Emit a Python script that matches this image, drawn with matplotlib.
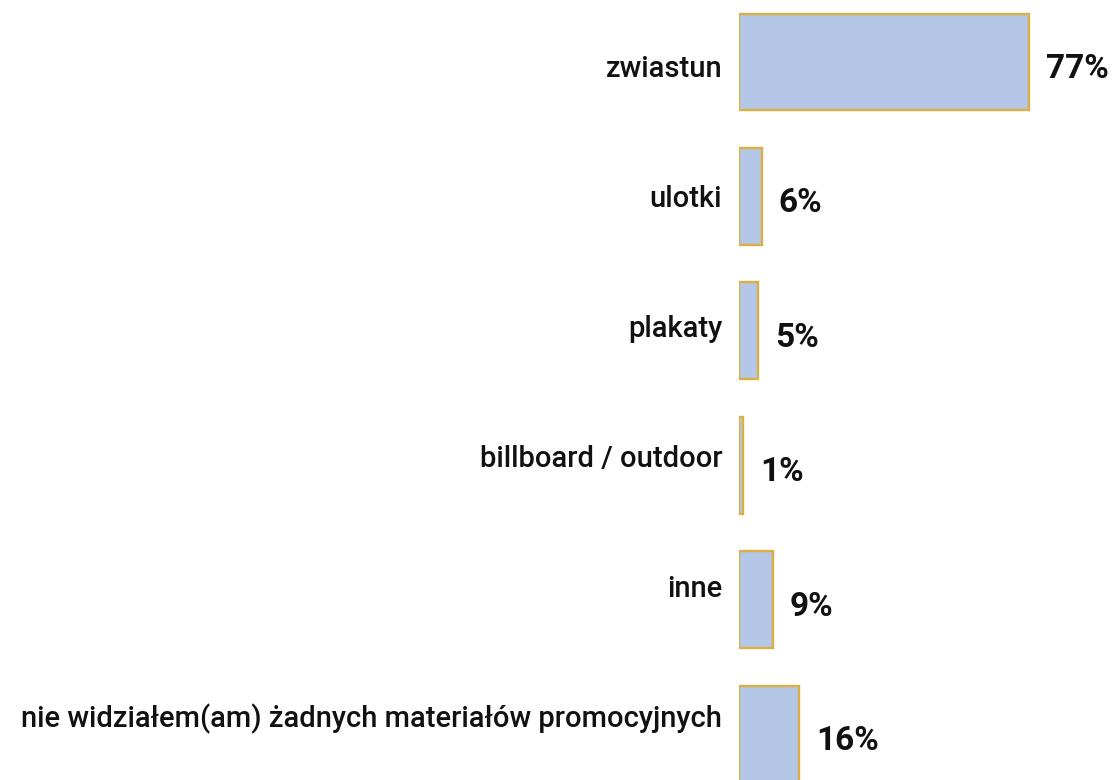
import matplotlib
matplotlib.use("Agg")
import matplotlib.pyplot as plt

categories = ["zwiastun", "ulotki", "plakaty", "billboard / outdoor", "inne",
              "nie widziałem(am) żadnych materiałów promocyjnych"]
values = [77, 6, 5, 1, 9, 16]
value_labels = ["77%", "6%", "5%", "1%", "9%", "16%"]

W, H = 1112, 780
fig = plt.figure(figsize=(W / 100, H / 100), dpi=100)
left_px = 739
ax = fig.add_axes([left_px / W, 0, 1 - left_px / W, 1])

px_per_unit = 3.76
ax.set_xlim(0, (W - left_px) / px_per_unit)
c0, step = 62, 134.4
ax.set_ylim((H - c0) / step, -c0 / step)

ypos = list(range(len(categories)))
ax.barh(ypos, values, height=0.72, color="#B4C7E7", edgecolor="#DAB042", linewidth=1.7)

PT = 0.72  # points per pixel at dpi 100
for y, v, cat, lab in zip(ypos, values, categories, value_labels):
    ax.annotate(cat, xy=(0, y), xytext=(-12 * PT - 3.5, -(15 - 4.4 * y) * PT),
                textcoords="offset points",
                ha="right", va="baseline", fontsize=21, family="Roboto", fontweight="medium",
                color="#111111", annotation_clip=False)
    ax.annotate(lab, xy=(v, y), xytext=(17 * PT, -16 * PT), textcoords="offset points",
                ha="left", va="baseline", fontsize=24, family="Roboto", fontweight="bold",
                color="#111111", annotation_clip=False)

ax.axis("off")
fig.savefig("out.png", dpi=100)
